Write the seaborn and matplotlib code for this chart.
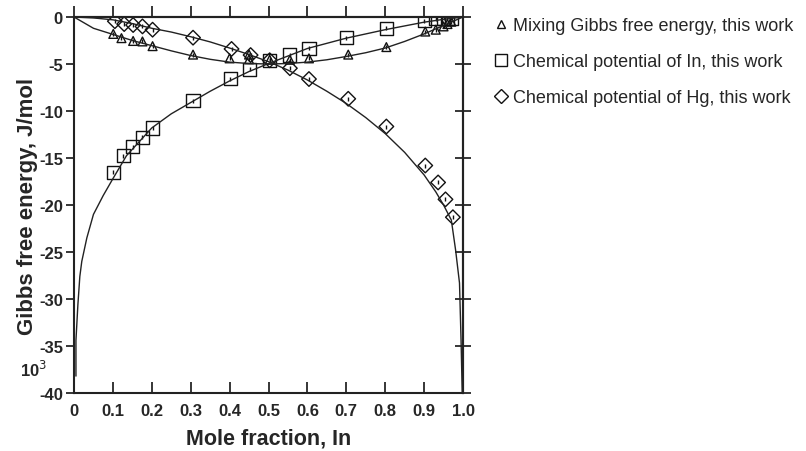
import matplotlib
matplotlib.use("Agg")
import matplotlib.pyplot as plt
import seaborn as sns
from matplotlib.lines import Line2D

# ---- data ----
mix_x = [0.101, 0.122, 0.152, 0.176, 0.202, 0.306, 0.40, 0.45, 0.45, 0.503, 0.555, 0.604, 0.705, 0.803, 0.903, 0.93, 0.95, 0.96, 0.97]
mix_y = [-1.8, -2.25, -2.55, -2.6, -3.1, -4.0, -4.4, -4.0, -4.5, -4.55, -4.55, -4.4, -4.0, -3.2, -1.55, -1.35, -1.0, -0.75, -0.5]

in_x = [0.101, 0.127, 0.151, 0.176, 0.202, 0.306, 0.402, 0.452, 0.503, 0.555, 0.604, 0.70, 0.803, 0.90, 0.93, 0.95, 0.96, 0.97]
in_y = [-16.5, -14.75, -13.8, -12.8, -11.8, -8.9, -6.55, -5.55, -4.6, -4.05, -3.35, -2.2, -1.2, -0.4, -0.2, -0.15, -0.1, -0.1]

hg_x = [0.105, 0.129, 0.152, 0.176, 0.202, 0.306, 0.405, 0.454, 0.503, 0.555, 0.604, 0.705, 0.803, 0.903, 0.936, 0.955, 0.974]
hg_y = [-0.45, -0.75, -0.85, -1.0, -1.35, -2.2, -3.4, -4.05, -4.6, -5.45, -6.6, -8.7, -11.65, -15.8, -17.6, -19.4, -21.3]

mix_line_x = [0, 0.05, 0.1, 0.15, 0.2, 0.25, 0.3, 0.35, 0.4, 0.45, 0.5, 0.55, 0.6, 0.65, 0.7, 0.75, 0.8, 0.85, 0.9, 0.95, 1.0]
mix_line_y = [0, -1.2, -1.85, -2.5, -3.05, -3.6, -4.1, -4.5, -4.8, -4.95, -5.0, -4.95, -4.8, -4.55, -4.2, -3.8, -3.3, -2.6, -1.8, -0.9, 0]

in_line_x = [0.005, 0.005, 0.01, 0.015, 0.02, 0.033, 0.05, 0.075, 0.1, 0.135, 0.2, 0.25, 0.3, 0.35, 0.4, 0.45, 0.5, 0.6, 0.7, 0.8, 0.9, 0.95, 1.0]
in_line_y = [-38.2, -34.4, -30.6, -27.6, -26.0, -23.5, -21.0, -19.0, -17.2, -14.75, -11.8, -10.3, -9.1, -7.9, -6.8, -5.8, -4.95, -3.35, -2.25, -1.35, -0.55, -0.25, 0]

hg_line_x = [0, 0.05, 0.1, 0.15, 0.2, 0.25, 0.3, 0.35, 0.4, 0.45, 0.5, 0.55, 0.6, 0.65, 0.7, 0.75, 0.8, 0.85, 0.9, 0.93, 0.95, 0.97, 0.981, 0.991, 0.995, 0.998]
hg_line_y = [0, -0.1, -0.3, -0.7, -1.2, -1.6, -2.1, -2.65, -3.3, -4.0, -4.75, -5.65, -6.7, -7.9, -9.2, -10.7, -12.4, -14.4, -16.8, -18.6, -20.0, -21.6, -24.8, -28.3, -34.4, -40.0]

x_ticks = [0, 0.1, 0.2, 0.3, 0.4, 0.5, 0.6, 0.7, 0.8, 0.9, 1.0]
x_ticklabels = ["0", "0.1", "0.2", "0.3", "0.4", "0.5", "0.6", "0.7", "0.8", "0.9", "1.0"]
y_ticks = [0, -5, -10, -15, -20, -25, -30, -35, -40]
y_ticklabels = ["0", "-5", "-10", "-15", "-20", "-25", "-30", "-35", "-40"]

labels = ["Mixing Gibbs free energy, this work",
          "Chemical potential of In, this work",
          "Chemical potential of Hg, this work"]

# ---- plot ----
sns.set_style("ticks")
plt.rcParams['font.family'] = ['Liberation Sans', 'DejaVu Sans']

fig = plt.figure(figsize=(8.06, 4.52), dpi=100)
ax = fig.add_axes([74/806, 1-394/452, (463-74)/806, (394-18)/452])

for lx, ly in [(mix_line_x, mix_line_y), (in_line_x, in_line_y), (hg_line_x, hg_line_y)]:
    sns.lineplot(x=lx, y=ly, ax=ax, color="#222222", lw=1.0, sort=False, estimator=None)

mk = dict(facecolor="none", edgecolor="#111111", linewidth=1.0, ax=ax, legend=False)
sns.scatterplot(x=mix_x, y=mix_y, marker="^", s=40, **mk)
sns.scatterplot(x=in_x, y=in_y, marker="s", s=90, **mk)
sns.scatterplot(x=hg_x, y=hg_y, marker="D", s=55, **mk)
# small inner ticks of the symbols
for xs, ys in [(mix_x, mix_y), (in_x, in_y), (hg_x, hg_y)]:
    sns.scatterplot(x=xs, y=ys, marker="|", s=12, color="#111111", linewidth=1.0, ax=ax, legend=False)

ax.set_xlim(0, 1.0)
ax.set_ylim(-40, 0)
ax.set_xticks(x_ticks)
ax.set_xticklabels(x_ticklabels)
ax.set_yticks(y_ticks)
ax.set_yticklabels(y_ticklabels)
for s in ax.spines.values():
    s.set_visible(True)
    s.set_linewidth(1.5)
    s.set_color("#222222")
ax.tick_params(axis="x", direction="in", length=8, width=1.3, labelsize=12, pad=7)
ax.tick_params(axis="y", direction="out", length=6, width=1.3, labelsize=12, pad=2)
for t in ax.get_xticklabels() + ax.get_yticklabels():
    t.set_fontweight("bold")

top = ax.secondary_xaxis("top")
top.set_xticks(x_ticks)
top.tick_params(direction="out", length=8, width=1.3, labeltop=False)
right = ax.secondary_yaxis("right")
right.set_yticks(y_ticks)
right.tick_params(direction="inout", length=12, width=1.3, labelright=False)
for sec in (top, right):
    for s in sec.spines.values():
        s.set_linewidth(1.5)
        s.set_color("#222222")

ax.set_xlabel("Mole fraction, In", fontsize=15.5, fontweight="bold", labelpad=7)
ax.set_ylabel("Gibbs free energy, J/mol", fontsize=16, fontweight="bold", labelpad=0.5)
ax.text(-0.07, -37.4, "10$^3$", fontsize=12, fontweight="bold", ha="right", va="center")

handles = [
    Line2D([], [], ls="none", marker="^", ms=6, mfc="none", mec="#111111"),
    Line2D([], [], ls="none", marker="s", ms=8, mfc="none", mec="#111111"),
    Line2D([], [], ls="none", marker="D", ms=7, mfc="none", mec="#111111"),
]
fig.legend(handles, labels, loc="upper left", bbox_to_anchor=(488/806, 1-11/452),
           frameon=False, fontsize=13, handlelength=0.6, handletextpad=0.4,
           labelspacing=1.05, borderaxespad=0)

fig.savefig("out.png", dpi=100)
